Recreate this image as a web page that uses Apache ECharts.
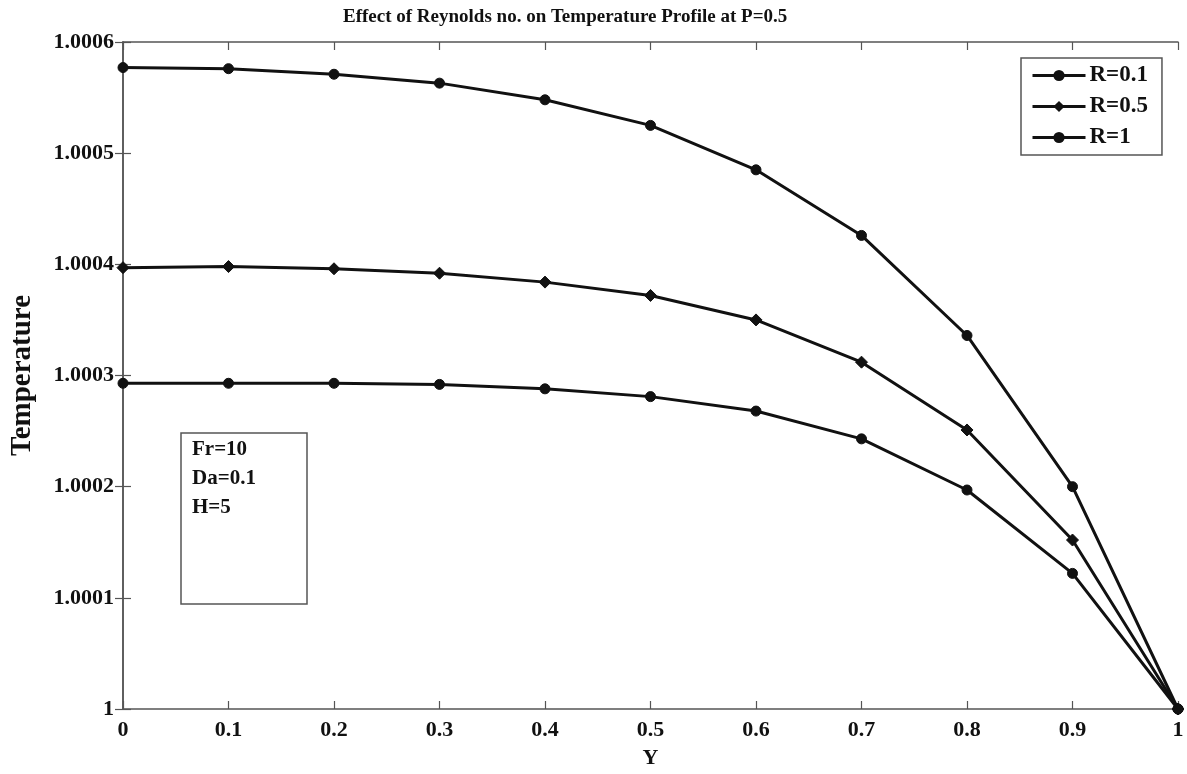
<!DOCTYPE html>
<html>
<head>
<meta charset="utf-8">
<script src="https://cdn.jsdelivr.net/npm/echarts@6/dist/echarts.min.js"></script>
<style>html,body{margin:0;padding:0;background:#fff}#c{width:1187px;height:774px}</style>
</head>
<body>
<div id="c"></div>
<script>
const yPositions = [0, 0.1, 0.2, 0.3, 0.4, 0.5, 0.6, 0.7, 0.8, 0.9, 1];
const seriesNames = ['R=0.1', 'R=0.5', 'R=1'];
const tempR01 = [1.000577, 1.000576, 1.000571, 1.000563, 1.000548, 1.000525, 1.000485, 1.000426, 1.000336, 1.000200, 1];
const tempR05 = [1.000397, 1.000398, 1.000396, 1.000392, 1.000384, 1.000372, 1.000350, 1.000312, 1.000251, 1.000152, 1];
const tempR1  = [1.000293, 1.000293, 1.000293, 1.000292, 1.000288, 1.000281, 1.000268, 1.000243, 1.000197, 1.000122, 1];
const paramLines = ['Fr=10', 'Da=0.1', 'H=5'];
const titleText = 'Effect of Reynolds no. on Temperature Profile at P=0.5';

const FONT = '"Liberation Serif", "Times New Roman", serif';
const AX = '#555';

function pairs(vals) { return yPositions.map((x, i) => [x, vals[i]]); }

const chart = echarts.init(document.getElementById('c'), null, {renderer: 'canvas'});
const symbols = ['circle', 'diamond', 'circle'];
const sizes = [10, 12, 10];
const allVals = [tempR01, tempR05, tempR1];

const axisCommon = {
  axisLine: {show: true, lineStyle: {color: AX, width: 1.5}},
  axisTick: {show: true, inside: true, length: 8, lineStyle: {color: AX, width: 1.2}},
  splitLine: {show: false}
};

chart.setOption({
  animation: false,
  backgroundColor: '#fff',
  title: {
    text: titleText, left: 338, top: 3,
    textStyle: {fontFamily: FONT, fontWeight: 'bold', fontSize: 19, color: '#111'}
  },
  grid: {left: 122, right: 9, top: 42, bottom: 62, containLabel: false},
  legend: {
    data: seriesNames,
    orient: 'vertical', left: 1021, top: 58,
    padding: [6, 14, 6, 10],
    itemWidth: 53, itemHeight: 14, itemGap: 8,
    lineStyle: {width: 3, color: '#111'},
    borderColor: AX, borderWidth: 1.5, backgroundColor: '#fff',
    textStyle: {fontFamily: FONT, fontWeight: 'bold', fontSize: 23, color: '#111', padding: [0, 0, 0, -1]}
  },
  xAxis: [{
    type: 'value', min: 0, max: 1, interval: 0.1, position: 'bottom',
    name: 'Y', nameLocation: 'middle', nameGap: 38,
    nameTextStyle: {fontFamily: FONT, fontWeight: 'bold', fontSize: 22, color: '#111'},
    axisLabel: {fontFamily: FONT, fontWeight: 'bold', fontSize: 22, color: '#111', margin: 10,
      formatter: v => String(parseFloat(v.toFixed(1)))},
    ...axisCommon
  }, {
    type: 'value', min: 0, max: 1, interval: 0.1, position: 'top',
    axisLabel: {show: false}, ...axisCommon
  }],
  yAxis: [{
    type: 'value', min: 1, max: 1.0006, interval: 0.0001, position: 'left',
    name: 'Temperature', nameLocation: 'middle', nameGap: 86, nameRotate: 90,
    nameTextStyle: {fontFamily: FONT, fontWeight: 'bold', fontSize: 29, color: '#111'},
    axisLabel: {fontFamily: FONT, fontWeight: 'bold', fontSize: 22, color: '#111', margin: 9,
      formatter: v => String(parseFloat(v.toFixed(4)))},
    ...axisCommon
  }, {
    type: 'value', min: 1, max: 1.0006, interval: 0.0001, position: 'right',
    axisLabel: {show: false}, ...axisCommon
  }],
  series: seriesNames.map((n, i) => ({
    name: n, type: 'line', data: pairs(allVals[i]),
    xAxisIndex: 0, yAxisIndex: 0,
    symbol: symbols[i], symbolSize: sizes[i], showAllSymbol: true,
    clip: false,
    lineStyle: {color: '#111', width: 3},
    itemStyle: {color: '#111', borderColor: '#111'},
    emphasis: {disabled: true}
  })),
  graphic: [
    {type: 'rect', shape: {x: 181, y: 433, width: 126, height: 171},
     style: {fill: '#fff', stroke: AX, lineWidth: 1.5}, z: 10},
    ...paramLines.map((t, i) => ({
      type: 'text', x: 192, y: 439 + i * 29, z: 11,
      style: {text: t, fontFamily: FONT, fontWeight: 'bold', fontSize: 21, fill: '#111'}
    }))
  ]
});
</script>
</body>
</html>
